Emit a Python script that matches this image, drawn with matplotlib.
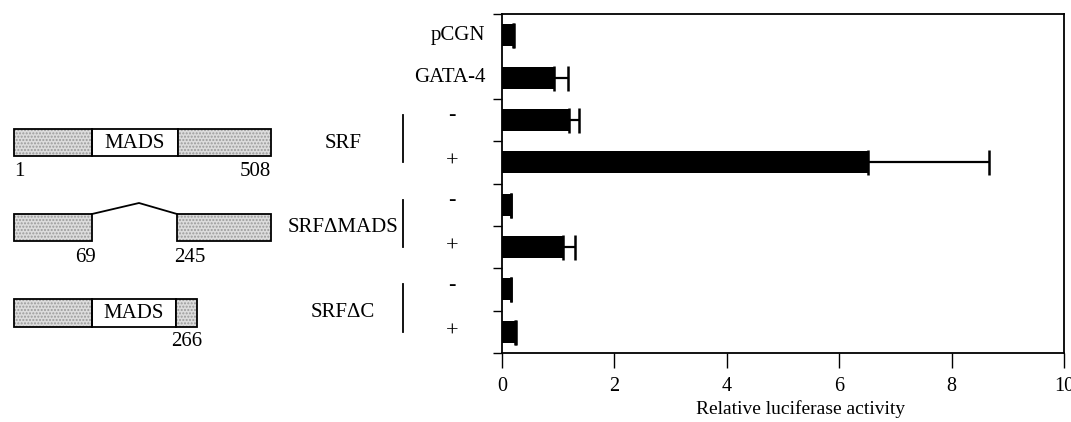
import numpy as np
import matplotlib
matplotlib.use('Agg')
import matplotlib.pyplot as plt
from matplotlib.patches import Rectangle

plt.rcParams['font.family'] = ['Liberation Serif', 'DejaVu Serif']

# luciferase data, top to bottom
rows = ['pCGN', 'GATA-4', 'SRF -', 'SRF +', 'SRFdMADS -', 'SRFdMADS +', 'SRFdC -', 'SRFdC +']
activity = [0.19, 0.93, 1.19, 6.51, 0.16, 1.08, 0.16, 0.23]
err_hi = [0.02, 0.24, 0.18, 2.16, 0.0, 0.22, 0.0, 0.02]
xticks = [0, 2, 4, 6, 8, 10]
constructs = ['SRF', 'SRF\u0394MADS', 'SRF\u0394C']
signs = ['-', '+']

fig = plt.figure(figsize=(10.71, 4.22), dpi=100)
W, H = 1071, 422

# overlay in pixel coords for the schematic
ov = fig.add_axes([0, 0, 1, 1])
ov.set_xlim(0, W)
ov.set_ylim(H, 0)
ov.axis('off')

ax = fig.add_axes([502 / W, 1 - 353 / H, 562 / W, 339 / H])
y = np.arange(len(rows))
ax.barh(y, activity, height=0.52, color='black')
ax.errorbar(activity, y, xerr=[np.zeros(len(rows)), err_hi], fmt='none',
            ecolor='black', elinewidth=1.6, capsize=9, capthick=1.8)
ax.set_xlim(0, 10)
ax.set_ylim(len(rows) - 0.5, -0.5)
ax.set_xticks(xticks)
ax.set_xticklabels([str(v) for v in xticks], fontsize=14.5)
ax.set_yticks([-0.5] + list(np.arange(1.5, len(rows), 1.0)))
ax.set_yticklabels([])
ax.tick_params(axis='y', direction='out', length=6.5, width=1)
ax.tick_params(axis='x', direction='out', length=11, width=1, pad=6)
for s in ax.spines.values():
    s.set_linewidth(1.3)
ax.set_xlabel('Relative luciferase activity', fontsize=14)
ax.xaxis.set_label_coords(0.532, -0.165)
ax.xaxis.label.set_va('center')

tr = ax.get_yaxis_transform()
ax.text(-0.030, 0, 'pCGN', transform=tr, ha='right', va='center', fontsize=15)
ax.text(-0.030, 1, 'GATA-4', transform=tr, ha='right', va='center', fontsize=15)
for i, name in enumerate(constructs):
    r0 = 2 + 2 * i
    for j, sg in enumerate(signs):
        ax.text(-0.089, r0 + j - (0.1 if sg == '-' else 0), sg, transform=tr, ha='center',
                va='center', fontsize=16, clip_on=False)
    ax.text(-0.283, r0 + 0.55, name, transform=tr, ha='center', va='center',
            fontsize=15, clip_on=False)
    ax.plot([-0.176, -0.176], [r0 - 0.12, r0 + 1.0], transform=tr, color='black',
            lw=1.3, clip_on=False)


def dom(x0, x1, y0, y1, grey=True):
    if grey:
        ov.add_patch(Rectangle((x0, y0), x1 - x0, y1 - y0, facecolor='#dcdcdc',
                               edgecolor='#9a9a9a', hatch='.....', lw=0))
    ov.add_patch(Rectangle((x0, y0), x1 - x0, y1 - y0, facecolor='none',
                           edgecolor='black', lw=1.3))


# SRF full length
dom(14, 92, 129, 156)
dom(92, 178, 129, 156, grey=False)
dom(178, 271, 129, 156)
ov.text(135, 143, 'MADS', ha='center', va='center', fontsize=15)
ov.text(14, 172, '1', ha='left', va='center', fontsize=15)
ov.text(271, 172, '508', ha='right', va='center', fontsize=15)

# SRF delta MADS
dom(14, 92, 214, 241)
dom(177, 271, 214, 241)
ov.plot([92, 139, 177], [214, 203, 214], color='black', lw=1.3)
ov.text(86, 257, '69', ha='center', va='center', fontsize=15)
ov.text(190, 257, '245', ha='center', va='center', fontsize=15)

# SRF delta C
dom(14, 92, 299, 327)
dom(92, 176, 299, 327, grey=False)
dom(176, 197, 299, 327)
ov.text(134, 313, 'MADS', ha='center', va='center', fontsize=15)
ov.text(187, 342, '266', ha='center', va='center', fontsize=15)

fig.savefig('out.png', dpi=100)
